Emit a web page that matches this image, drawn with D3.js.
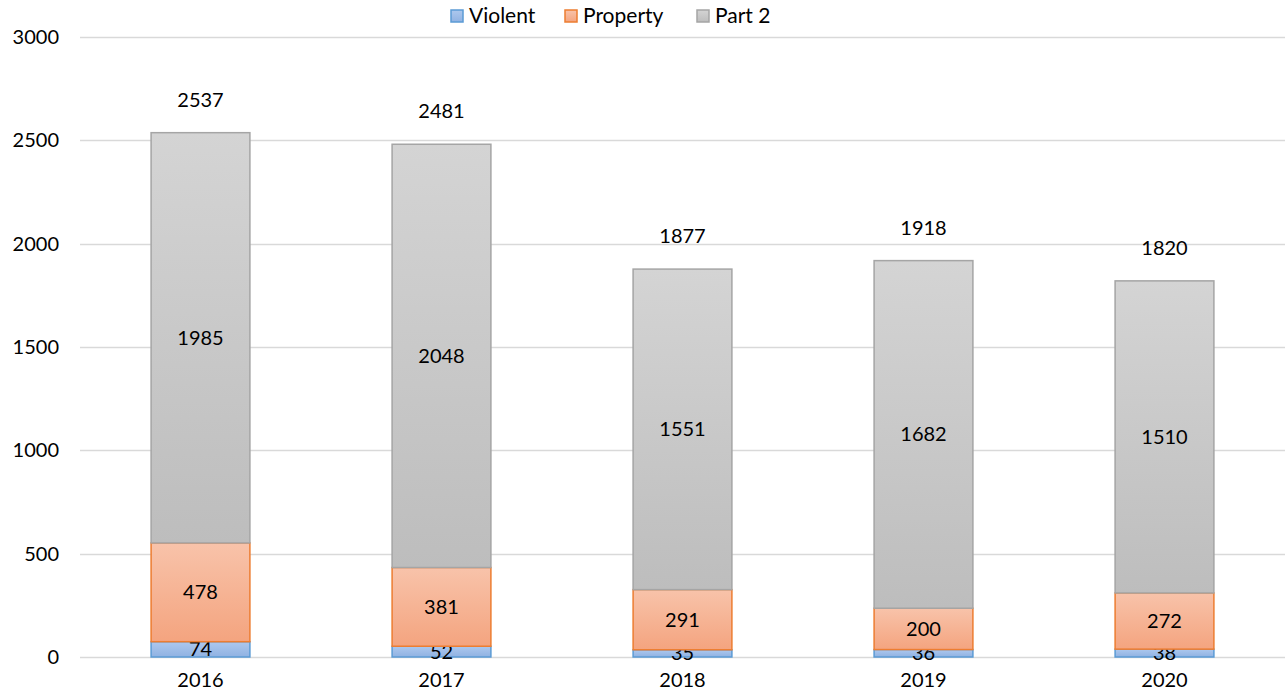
<!DOCTYPE html>
<html>
<head>
<meta charset="utf-8">
<script src="https://cdn.jsdelivr.net/npm/d3@7"></script>
<style>
  body { margin: 0; background: #fff; }
  text { font-family: Lato, "Open Sans", sans-serif; fill: #000; }
</style>
</head>
<body>
<svg id="chart" width="1286" height="700"></svg>
<script>
var years = ['2016', '2017', '2018', '2019', '2020'];
var violent = [74, 52, 35, 36, 38];
var property = [478, 381, 291, 200, 272];
var part2 = [1985, 2048, 1551, 1682, 1510];
var seriesNames = ['Violent', 'Property', 'Part 2'];
var yTicks = [0, 500, 1000, 1500, 2000, 2500, 3000];

var styles = [
    { top: '#adc8ee', bottom: '#90b2e2', stroke: '#5b9bd5' },
    { top: '#f8c3aa', bottom: '#f4a47f', stroke: '#ed7d31' },
    { top: '#d4d4d4', bottom: '#bdbdbd', stroke: '#a5a5a5' }
];

var svg = d3.select('#chart'),
    margin = { left: 80, right: 1, top: 37, bottom: 43 },
    width = 1286 - margin.left - margin.right,
    height = 700 - margin.top - margin.bottom;

var rows = years.map(function (y, i) {
    return { year: y, Violent: violent[i], Property: property[i], 'Part 2': part2[i] };
});
var stacked = d3.stack().keys(seriesNames)(rows);

var x = d3.scaleBand().domain(years).range([0, width]).paddingInner(0.59).paddingOuter(0.295);
var y = d3.scaleLinear().domain([0, 3000]).range([height, 0]);

var defs = svg.append('defs');
styles.forEach(function (s, i) {
    var g = defs.append('linearGradient').attr('id', 'grad' + i)
        .attr('x1', 0).attr('y1', 0).attr('x2', 0).attr('y2', 1);
    g.append('stop').attr('offset', '0%').attr('stop-color', s.top);
    g.append('stop').attr('offset', '100%').attr('stop-color', s.bottom);
});

var main = svg.append('g').attr('transform', 'translate(' + margin.left + ',' + margin.top + ')');

// grid
main.append('g').selectAll('line').data(yTicks).enter().append('line')
    .attr('x1', 0).attr('x2', width)
    .attr('y1', function (d) { return Math.round(y(d)) + 0.5; })
    .attr('y2', function (d) { return Math.round(y(d)) + 0.5; })
    .attr('stroke', '#d9d9d9').attr('stroke-width', 1.5);

// y labels
main.append('g').selectAll('text').data(yTicks).enter().append('text')
    .attr('x', -21).attr('y', function (d) { return y(d); })
    .attr('dy', '0.35em').attr('text-anchor', 'end')
    .style('font-size', '20px')
    .text(function (d) { return d; });

// x labels
main.append('g').selectAll('text').data(years).enter().append('text')
    .attr('x', function (d) { return x(d) + x.bandwidth() / 2; })
    .attr('y', height + 23).attr('dy', '0.35em').attr('text-anchor', 'middle')
    .style('font-size', '20px')
    .text(function (d) { return d; });

// bars
var layer = main.selectAll('g.layer').data(stacked).enter().append('g').attr('class', 'layer');
layer.selectAll('rect').data(function (d) { return d; }).enter().append('rect')
    .attr('x', function (d) { return x(d.data.year); })
    .attr('width', x.bandwidth())
    .attr('y', function (d) { return y(d[1]); })
    .attr('height', function (d) { return y(d[0]) - y(d[1]); })
    .attr('fill', function () { return 'url(#grad' + d3.select(this.parentNode).datum().index + ')'; })
    .attr('stroke', function () { return styles[d3.select(this.parentNode).datum().index].stroke; })
    .attr('stroke-width', 1.5);

// segment labels
layer.selectAll('text').data(function (d) { return d; }).enter().append('text')
    .attr('x', function (d) { return x(d.data.year) + x.bandwidth() / 2; })
    .attr('y', function (d) { return (y(d[0]) + y(d[1])) / 2; })
    .attr('dy', '0.35em').attr('text-anchor', 'middle')
    .style('font-size', '20px')
    .text(function (d) { return d[1] - d[0]; });

// totals
main.append('g').selectAll('text').data(rows).enter().append('text')
    .attr('x', function (d) { return x(d.year) + x.bandwidth() / 2; })
    .attr('y', function (d) { return y(d.Violent + d.Property + d['Part 2']) - 33; })
    .attr('dy', '0.35em').attr('text-anchor', 'middle')
    .style('font-size', '20px')
    .text(function (d) { return d.Violent + d.Property + d['Part 2']; });

// legend
var legendX = [451, 565, 697];
var legend = svg.append('g').selectAll('g').data(seriesNames).enter().append('g')
    .attr('transform', function (d, i) { return 'translate(' + legendX[i] + ',16)'; });
legend.append('rect')
    .attr('x', 0).attr('y', -6).attr('width', 12).attr('height', 12)
    .attr('fill', function (d, i) { return 'url(#grad' + i + ')'; })
    .attr('stroke', function (d, i) { return styles[i].stroke; })
    .attr('stroke-width', 1.5);
legend.append('text')
    .attr('x', 18).attr('y', 0).attr('dy', '0.35em')
    .style('font-size', '21px')
    .text(function (d) { return d; });
</script>
</body>
</html>
